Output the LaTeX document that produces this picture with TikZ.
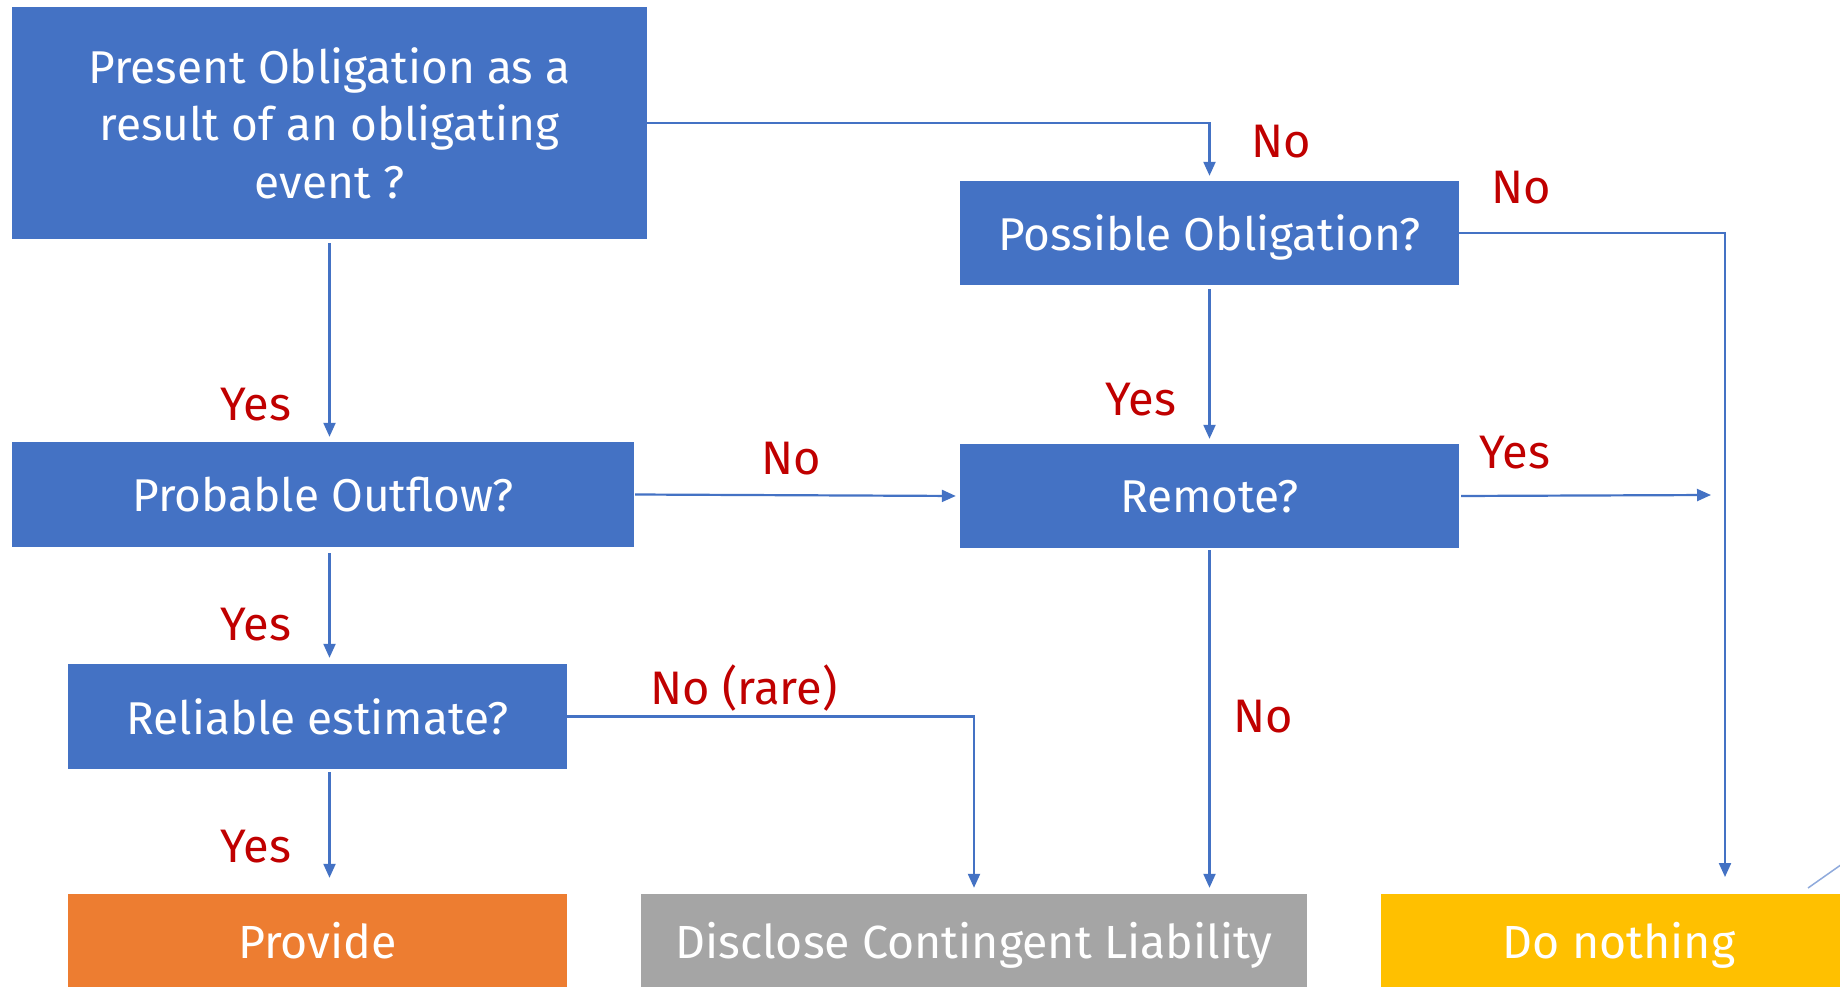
\documentclass[tikz,border=0pt]{standalone}
\usepackage{fontspec}
\setmainfont{Fira Sans}
\usetikzlibrary{arrows.meta,calc}
\definecolor{cblue}{HTML}{4472C4}
\definecolor{corange}{HTML}{ED7D31}
\definecolor{cgray}{HTML}{A5A5A5}
\definecolor{cyellow}{HTML}{FFC000}
\definecolor{cred}{HTML}{C00000}
\definecolor{clight}{HTML}{8FAADC}
\begin{document}
\begin{tikzpicture}[x=1pt,y=-1pt,
  box/.style={fill=cblue, text=white, align=center, inner sep=0pt, font=\fontsize{46}{57.5}\selectfont},
  onebox/.style={fill=cblue, text=white, inner sep=0pt, text depth=0pt, font=\fontsize{46}{57.5}\selectfont},
  outbox/.style={text=white, inner sep=0pt, text depth=0pt, font=\fontsize{46.5}{57.5}\selectfont},
  lab/.style={text=cred, inner sep=0pt, font=\fontsize{47}{52}\selectfont},
  arr/.style={draw=cblue, line width=2.2pt, -{Triangle[length=14pt,width=12pt]}}]
\useasboundingbox (0,0) rectangle (1840,987);
\clip (0,0) rectangle (1840,987);
\fill[white] (0,0) rectangle (1840,987);
% boxes
\node[box, minimum width=635pt, minimum height=232pt] (pres) at (329.5,123) {Present Obligation as a\\result of an obligating\\event ?};
\node[onebox, minimum width=499pt, minimum height=104pt] (poss) at (1209.5,233) {Possible Obligation?};
\node[onebox, minimum width=622pt, minimum height=105pt] (prob) at (323,494.5) {Probable Outflow?};
\node[onebox, minimum width=499pt, minimum height=104pt] (rem) at (1209.5,496) {Remote?};
\node[onebox, minimum width=499pt, minimum height=105pt] (rel) at (317.5,716.5) {Reliable estimate?};
\node[outbox, fill=corange, minimum width=499pt, minimum height=93pt] (prov) at (317.5,940.5) {Provide};
\node[outbox, fill=cgray, minimum width=666pt, minimum height=93pt] (disc) at (974,940.5) {Disclose Contingent Liability};
\node[outbox, fill=cyellow, minimum width=476pt, minimum height=93pt] (dono) at (1619,940.5) {Do nothing};
% free ends
\coordinate (dnin) at (1725,893);
\coordinate (remend) at (1711,495);
% connectors
\draw[arr, shorten >=5pt] (pres.east) -| (poss.north);
\draw[arr, shorten >=16pt] (poss.east) -| (dnin);
\draw[arr, shorten <=4pt, shorten >=5pt] (pres.south) -- (pres.south |- prob.north);
\draw[arr, shorten <=4pt, shorten >=5pt] (poss.south) -- (rem.north);
\draw[arr, shorten <=1pt, shorten >=4pt] (prob.east) -- (rem.west);
\draw[arr, shorten <=2pt] (rem.east) -- (remend);
\draw[arr, shorten <=6pt, shorten >=6pt] (prob.south -| pres.south) -- (rel.north -| pres.south);
\draw[arr, shorten <=2pt, shorten >=6pt] (rem.south) -- (rem.south |- disc.north);
\draw[arr, shorten >=6pt] (rel.east) -| (disc.north);
\draw[arr, shorten <=3pt, shorten >=16pt] (rel.south -| pres.south) -- (prov.north -| pres.south);
\draw[clight, line width=1.5pt] (1808,888) -- (1862,850);
% labels
\node[lab] (l1) at (1281,142) {No};
\node[lab] (l2) at (1521,188) {No};
\node[lab] (l3) at (256,405) {Yes};
\node[lab] (l4) at (1141,400) {Yes};
\node[lab] (l5) at (791,459) {No};
\node[lab] (l6) at (1515,453) {Yes};
\node[lab] (l7) at (256,625) {Yes};
\node[lab] (l8) at (1263,717) {No};
\node[lab] (l9) at (744,688) {No (rare)};
\node[lab] (l10) at (256,847) {Yes};
\end{tikzpicture}
\end{document}
